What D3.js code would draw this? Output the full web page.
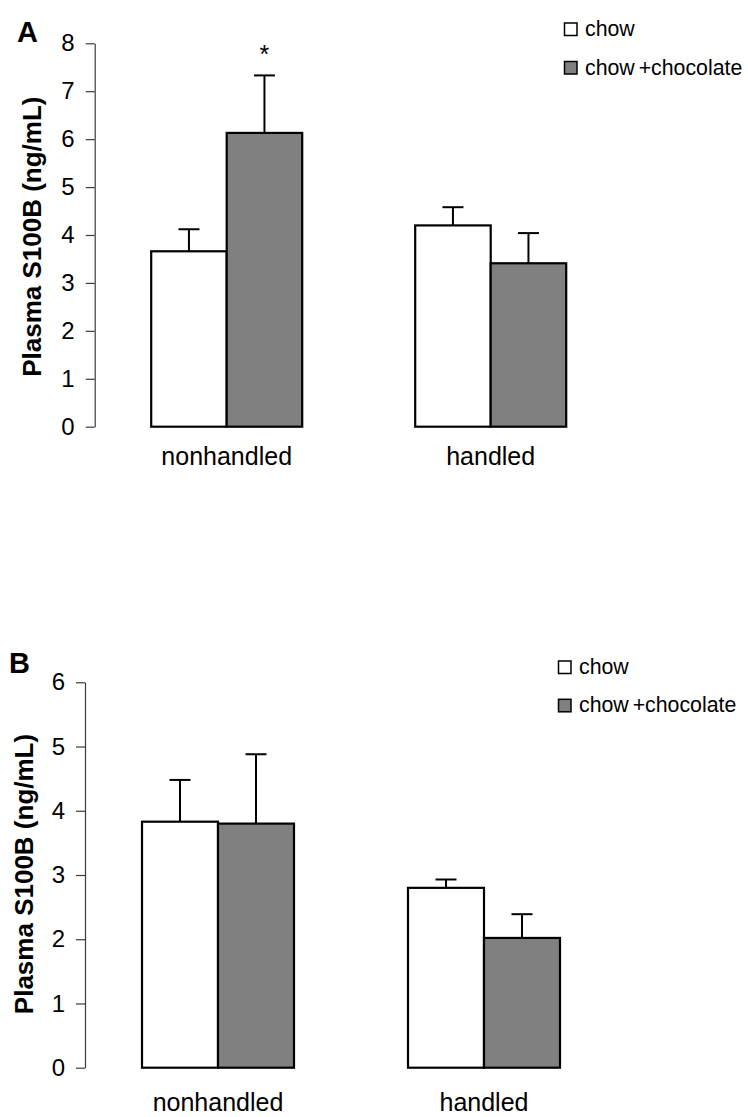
<!DOCTYPE html>
<html>
<head>
<meta charset="utf-8">
<script src="https://d3js.org/d3.v7.min.js"></script>
<style>
  html, body { margin: 0; padding: 0; background: #fff; }
  svg text { font-family: "Liberation Sans", Arial, Helvetica, sans-serif; fill: #000; }
</style>
</head>
<body>
<svg id="chart" width="748" height="1117"></svg>
<script>
// ---------- data ----------
const groups = ["nonhandled", "handled"];
const seriesNames = ["chow", "chow +chocolate"];
const seriesFills = ["#ffffff", "#808080"];
const yLabel = "Plasma S100B (ng/mL)";

// Panel A
const aChowMean = [3.66, 4.20];
const aChowSem  = [0.46, 0.38];
const aChocMean = [6.13, 3.41];
const aChocSem  = [1.20, 0.63];
const aChocSig  = ["*", ""];
const aTicks    = [0, 1, 2, 3, 4, 5, 6, 7, 8];

// Panel B
const bChowMean = [3.83, 2.80];
const bChowSem  = [0.65, 0.13];
const bChocMean = [3.80, 2.02];
const bChocSem  = [1.08, 0.37];
const bChocSig  = ["", ""];
const bTicks    = [0, 1, 2, 3, 4, 5, 6];

const svg = d3.select("#chart");

function drawPanel(p) {
  const g = svg.append("g");
  const y = d3.scaleLinear().domain([0, d3.max(p.ticks)]).range([p.y0, p.y1]);
  const x = d3.scaleBand().domain(groups).range([p.x0, p.x1]).paddingInner(p.pad).paddingOuter(p.pad / 2);
  const xs = d3.scaleBand().domain(seriesNames).range([0, x.bandwidth()]).padding(0);

  // axis
  const axis = d3.axisLeft(y).tickValues(p.ticks).tickFormat(d3.format("d"))
    .tickSize(9).tickSizeOuter(0).tickPadding(11);
  const ax = g.append("g").attr("transform", `translate(${p.x0},0)`).call(axis);
  ax.select(".domain").attr("stroke", "#3a3a3a").attr("stroke-width", 1.2);
  ax.selectAll(".tick line").attr("stroke", "#3a3a3a").attr("stroke-width", 1.2);
  ax.selectAll(".tick text").attr("font-size", 24).attr("fill", "#000")
    .attr("font-family", "'Liberation Sans', Arial, sans-serif");

  const series = [
    { name: seriesNames[0], mean: p.chowMean, sem: p.chowSem, sig: null, fill: seriesFills[0] },
    { name: seriesNames[1], mean: p.chocMean, sem: p.chocSem, sig: p.chocSig, fill: seriesFills[1] }
  ];

  series.forEach(s => {
    const data = groups.map((grp, i) => ({ grp, m: s.mean[i], e: s.sem[i], sig: s.sig ? s.sig[i] : "" }));
    const sg = g.append("g");
    sg.selectAll("line.err").data(data).join("line")
      .attr("x1", d => x(d.grp) + xs(s.name) + xs.bandwidth() / 2)
      .attr("x2", d => x(d.grp) + xs(s.name) + xs.bandwidth() / 2)
      .attr("y1", d => y(d.m)).attr("y2", d => y(d.m + d.e))
      .attr("stroke", "#000").attr("stroke-width", 2);
    sg.selectAll("line.cap").data(data).join("line")
      .attr("x1", d => x(d.grp) + xs(s.name) + xs.bandwidth() / 2 - 10.5)
      .attr("x2", d => x(d.grp) + xs(s.name) + xs.bandwidth() / 2 + 10.5)
      .attr("y1", d => y(d.m + d.e)).attr("y2", d => y(d.m + d.e))
      .attr("stroke", "#000").attr("stroke-width", 2);
    sg.selectAll("rect").data(data).join("rect")
      .attr("x", d => x(d.grp) + xs(s.name))
      .attr("y", d => y(d.m))
      .attr("width", xs.bandwidth())
      .attr("height", d => y(0) - y(d.m))
      .attr("fill", s.fill).attr("stroke", "#000").attr("stroke-width", 2.2);
    sg.selectAll("text.sig").data(data.filter(d => d.sig)).join("text")
      .attr("x", d => x(d.grp) + xs(s.name) + xs.bandwidth() / 2)
      .attr("y", d => y(d.m + d.e) - 12)
      .attr("text-anchor", "middle").attr("font-size", 25).text(d => d.sig);
  });

  // category labels
  g.selectAll("text.cat").data(groups).join("text")
    .attr("x", d => x(d) + x.bandwidth() / 2)
    .attr("y", p.catY)
    .attr("text-anchor", "middle").attr("font-size", 25).text(d => d);

  // y label
  g.append("text")
    .attr("transform", `translate(${p.ylX},${p.ylY}) rotate(-90)`)
    .attr("text-anchor", "middle").attr("font-size", 26).attr("font-weight", "bold")
    .text(yLabel);

  // panel letter
  g.append("text").attr("x", p.letterX).attr("y", p.letterY)
    .attr("font-size", 29).attr("font-weight", "bold").text(p.letter);

  // legend
  const lg = g.append("g");
  seriesNames.forEach((n, i) => {
    lg.append("rect")
      .attr("x", p.legX).attr("y", p.legY + i * p.legStep)
      .attr("width", 12.5).attr("height", 12.5)
      .attr("fill", seriesFills[i]).attr("stroke", "#000").attr("stroke-width", 1.5);
    lg.append("text")
      .attr("x", p.legX + 20.5).attr("y", p.legY + i * p.legStep + 13)
      .attr("font-size", 21.3).attr("word-spacing", -2).text(n);
  });
}

drawPanel({
  letter: "A", letterX: 17, letterY: 42,
  ticks: aTicks, y0: 426.7, y1: 43.3, x0: 94.7, x1: 622.7, pad: 0.428,
  chowMean: aChowMean, chowSem: aChowSem, chocMean: aChocMean, chocSem: aChocSem, chocSig: aChocSig,
  catY: 465, ylX: 40.5, ylY: 236.7,
  legX: 564.5, legY: 23, legStep: 38.5
});

drawPanel({
  letter: "B", letterX: 9, letterY: 673,
  ticks: bTicks, y0: 1067.7, y1: 682.3, x0: 85, x1: 617, pad: 0.4286,
  chowMean: bChowMean, chowSem: bChowSem, chocMean: bChocMean, chocSem: bChocSem, chocSig: bChocSig,
  catY: 1111, ylX: 32.5, ylY: 874,
  legX: 558.5, legY: 661, legStep: 38.3
});
</script>
</body>
</html>
